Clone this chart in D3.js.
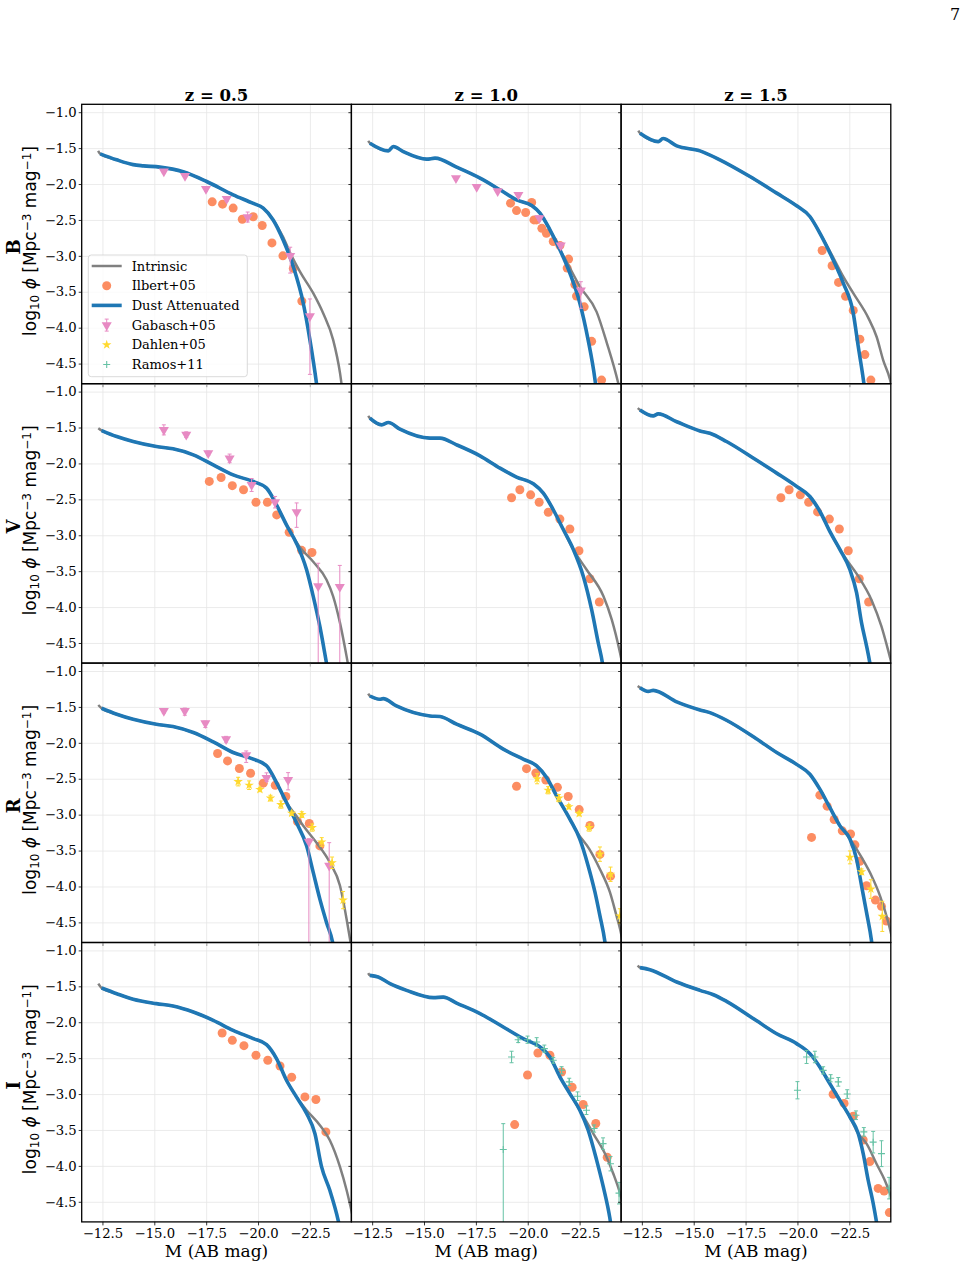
<!DOCTYPE html>
<html>
<head>
<meta charset="utf-8">
<script src="https://cdn.jsdelivr.net/npm/d3@7"></script>
<style>
  body { margin: 0; background: #fff; }
  text { font-family: "DejaVu Serif", serif; }
</style>
</head>
<body>
<div id="chart"></div>
<script>
// ---- categories / ticks ----
const bands = ["B", "V", "R", "I"];
const redshifts = ["0.5", "1.0", "1.5"];
const xTicks = [-12.5, -15, -17.5, -20, -22.5];
const yTicks = [-1, -1.5, -2, -2.5, -3, -3.5, -4, -4.5];

// ---- model curves: [M, log10 phi] ----
const dustB05 = [[-12.39,-1.58],[-13.18,-1.663],[-13.98,-1.73],[-14.47,-1.747],[-15.27,-1.765],[-16.39,-1.83],[-17.52,-1.965],[-18.8,-2.15],[-19.77,-2.27],[-20.25,-2.335],[-20.73,-2.50],[-21.21,-2.78],[-21.7,-3.15],[-22.18,-3.66],[-22.5,-4.17],[-22.82,-4.78],[-23.0,-5.2]];
const intrB05 = [[-12.29,-1.54],[-12.39,-1.58],[-13.18,-1.663],[-13.98,-1.73],[-14.47,-1.747],[-15.27,-1.765],[-16.39,-1.83],[-17.52,-1.965],[-18.8,-2.15],[-19.77,-2.27],[-20.25,-2.335],[-20.73,-2.50],[-21.21,-2.74],[-21.55,-2.96],[-22.02,-3.22],[-22.66,-3.52],[-23.14,-3.80],[-23.62,-4.17],[-23.95,-4.63],[-24.1,-4.95]];
const dustB10 = [[-12.39,-1.431],[-13.28,-1.538],[-13.52,-1.478],[-14.0,-1.548],[-15.13,-1.654],[-15.53,-1.64],[-16.57,-1.765],[-17.7,-1.918],[-18.66,-2.08],[-19.46,-2.22],[-20.19,-2.30],[-20.59,-2.405],[-21.07,-2.637],[-21.55,-2.915],[-22.03,-3.24],[-22.51,-3.656],[-22.91,-4.17],[-23.24,-4.72],[-23.4,-5.1]];
const intrB10 = [[-12.31,-1.40],[-12.39,-1.431],[-13.28,-1.538],[-13.52,-1.478],[-14.0,-1.548],[-15.13,-1.654],[-15.53,-1.64],[-16.57,-1.765],[-17.7,-1.918],[-18.66,-2.08],[-19.46,-2.22],[-20.19,-2.30],[-20.59,-2.405],[-21.07,-2.637],[-21.55,-2.915],[-21.85,-3.07],[-22.51,-3.424],[-23.32,-3.78],[-23.8,-4.2],[-24.36,-4.77],[-24.5,-4.95]];
const dustB15 = [[-12.41,-1.292],[-13.29,-1.409],[-13.52,-1.367],[-14.18,-1.469],[-15.3,-1.538],[-16.26,-1.663],[-17.71,-1.896],[-19.0,-2.127],[-19.96,-2.303],[-20.6,-2.452],[-21.08,-2.683],[-21.72,-3.055],[-22.21,-3.38],[-22.69,-3.797],[-22.93,-4.26],[-23.2,-4.77],[-23.3,-5.0]];
const intrB15 = [[-12.33,-1.256],[-12.41,-1.292],[-13.29,-1.409],[-13.52,-1.367],[-14.18,-1.469],[-15.3,-1.538],[-16.26,-1.663],[-17.71,-1.896],[-19.0,-2.127],[-19.96,-2.303],[-20.6,-2.452],[-21.08,-2.683],[-21.72,-3.02],[-22.21,-3.29],[-22.69,-3.52],[-23.41,-3.86],[-23.82,-4.13],[-24.14,-4.46],[-24.46,-4.72],[-24.6,-4.9]];

const dustV05 = [[-12.46,-1.542],[-13.19,-1.626],[-13.98,-1.695],[-15.1,-1.765],[-15.9,-1.797],[-16.88,-1.88],[-17.84,-2.02],[-18.8,-2.16],[-19.77,-2.252],[-20.41,-2.344],[-20.89,-2.577],[-21.37,-2.855],[-21.85,-3.11],[-22.34,-3.48],[-22.66,-3.85],[-22.98,-4.27],[-23.3,-4.78],[-23.5,-5.1]];
const intrV05 = [[-12.3,-1.51],[-12.46,-1.542],[-13.19,-1.626],[-13.98,-1.695],[-15.1,-1.765],[-15.9,-1.797],[-16.88,-1.88],[-17.84,-2.02],[-18.8,-2.16],[-19.77,-2.252],[-20.41,-2.344],[-20.89,-2.577],[-21.37,-2.855],[-22.0,-3.16],[-22.66,-3.37],[-23.3,-3.62],[-23.62,-3.85],[-23.95,-4.22],[-24.27,-4.69],[-24.4,-4.9]];
const dustV10 = [[-12.39,-1.37],[-12.96,-1.463],[-13.28,-1.431],[-13.84,-1.523],[-15.29,-1.648],[-15.77,-1.648],[-16.57,-1.741],[-17.7,-1.894],[-18.66,-2.065],[-19.46,-2.19],[-20.27,-2.284],[-20.75,-2.413],[-21.23,-2.645],[-21.72,-2.924],[-22.2,-3.20],[-22.68,-3.573],[-23.08,-4.036],[-23.4,-4.50],[-23.6,-4.78],[-23.7,-5.0]];
const intrV10 = [[-12.31,-1.338],[-12.39,-1.37],[-12.96,-1.463],[-13.28,-1.431],[-13.84,-1.523],[-15.29,-1.648],[-15.77,-1.648],[-16.57,-1.741],[-17.7,-1.894],[-18.66,-2.065],[-19.46,-2.19],[-20.27,-2.284],[-20.75,-2.413],[-21.23,-2.645],[-21.72,-2.924],[-22.2,-3.20],[-22.84,-3.48],[-23.65,-3.85],[-24.05,-4.175],[-24.45,-4.64],[-24.6,-4.85]];
const dustV15 = [[-12.41,-1.255],[-13.05,-1.338],[-13.29,-1.31],[-14.18,-1.42],[-15.3,-1.548],[-15.78,-1.58],[-16.58,-1.695],[-18.0,-1.95],[-19.0,-2.135],[-19.96,-2.32],[-20.6,-2.46],[-21.08,-2.666],[-21.56,-2.947],[-22.05,-3.20],[-22.53,-3.48],[-22.85,-3.80],[-23.09,-4.22],[-23.33,-4.54],[-23.49,-4.78],[-23.6,-5.0]];
const intrV15 = [[-12.3,-1.23],[-12.41,-1.255],[-13.05,-1.338],[-13.29,-1.31],[-14.18,-1.42],[-15.3,-1.548],[-15.78,-1.58],[-16.58,-1.695],[-18.0,-1.95],[-19.0,-2.135],[-19.96,-2.32],[-20.6,-2.46],[-21.08,-2.666],[-21.56,-2.947],[-22.05,-3.20],[-22.37,-3.34],[-22.93,-3.57],[-23.57,-3.90],[-24.05,-4.27],[-24.37,-4.60],[-24.55,-4.8]];

const dustR05 = [[-12.46,-1.519],[-13.19,-1.602],[-13.98,-1.672],[-15.1,-1.741],[-15.9,-1.773],[-16.88,-1.857],[-17.84,-1.987],[-18.8,-2.135],[-19.77,-2.228],[-20.41,-2.32],[-20.89,-2.553],[-21.37,-2.83],[-21.85,-3.11],[-22.34,-3.434],[-22.66,-3.804],[-22.98,-4.176],[-23.3,-4.50],[-23.59,-4.77],[-23.7,-4.95]];
const intrR05 = [[-12.3,-1.473],[-12.46,-1.519],[-13.19,-1.602],[-13.98,-1.672],[-15.1,-1.741],[-15.9,-1.773],[-16.88,-1.857],[-17.84,-1.987],[-18.8,-2.135],[-19.77,-2.228],[-20.41,-2.32],[-20.89,-2.553],[-21.37,-2.83],[-21.85,-3.02],[-22.18,-3.156],[-22.82,-3.39],[-23.46,-3.665],[-23.95,-3.99],[-24.27,-4.455],[-24.43,-4.73],[-24.5,-4.85]];
const dustR10 = [[-12.39,-1.348],[-12.87,-1.394],[-13.03,-1.385],[-13.67,-1.487],[-15.29,-1.626],[-15.77,-1.633],[-16.57,-1.741],[-17.7,-1.88],[-18.82,-2.088],[-19.78,-2.228],[-20.43,-2.32],[-20.91,-2.482],[-21.39,-2.738],[-22.03,-3.062],[-22.51,-3.34],[-22.91,-3.71],[-23.24,-4.08],[-23.48,-4.41],[-23.72,-4.77],[-23.8,-4.95]];
const intrR10 = [[-12.31,-1.315],[-12.39,-1.348],[-12.87,-1.394],[-13.03,-1.385],[-13.67,-1.487],[-15.29,-1.626],[-15.77,-1.633],[-16.57,-1.741],[-17.7,-1.88],[-18.82,-2.088],[-19.78,-2.228],[-20.43,-2.32],[-20.91,-2.482],[-21.39,-2.738],[-22.03,-3.062],[-22.39,-3.25],[-22.97,-3.48],[-23.48,-3.76],[-23.96,-4.08],[-24.28,-4.41],[-24.45,-4.59],[-24.6,-4.8]];
const dustR15 = [[-12.41,-1.232],[-12.81,-1.284],[-13.05,-1.27],[-14.18,-1.43],[-15.3,-1.542],[-15.78,-1.58],[-16.58,-1.686],[-18.0,-1.94],[-19.0,-2.135],[-19.96,-2.30],[-20.6,-2.437],[-21.08,-2.645],[-21.56,-2.90],[-22.05,-3.156],[-22.53,-3.34],[-22.85,-3.62],[-23.09,-3.99],[-23.33,-4.36],[-23.57,-4.757],[-23.65,-4.95]];
const intrR15 = [[-12.3,-1.209],[-12.41,-1.232],[-12.81,-1.284],[-13.05,-1.27],[-14.18,-1.43],[-15.3,-1.542],[-15.78,-1.58],[-16.58,-1.686],[-18.0,-1.94],[-19.0,-2.135],[-19.96,-2.30],[-20.6,-2.437],[-21.08,-2.645],[-21.56,-2.90],[-22.05,-3.156],[-22.53,-3.34],[-23.1,-3.60],[-23.57,-3.85],[-23.98,-4.13],[-24.38,-4.50],[-24.55,-4.7]];

const dustI05 = [[-12.46,-1.524],[-13.19,-1.603],[-13.98,-1.68],[-15.1,-1.741],[-15.9,-1.774],[-16.88,-1.858],[-17.84,-1.974],[-18.8,-2.113],[-19.77,-2.228],[-20.41,-2.312],[-20.89,-2.506],[-21.37,-2.808],[-21.85,-3.04],[-22.34,-3.27],[-22.74,-3.55],[-23.06,-4.01],[-23.46,-4.34],[-23.86,-4.755],[-24.0,-4.95]];
const intrI05 = [[-12.3,-1.463],[-12.46,-1.524],[-13.19,-1.603],[-13.98,-1.68],[-15.1,-1.741],[-15.9,-1.774],[-16.88,-1.858],[-17.84,-1.974],[-18.8,-2.113],[-19.77,-2.228],[-20.41,-2.312],[-20.89,-2.506],[-21.37,-2.808],[-21.85,-3.04],[-22.34,-3.225],[-22.98,-3.434],[-23.46,-3.643],[-23.95,-4.014],[-24.27,-4.34],[-24.46,-4.57],[-24.6,-4.75]];
const dustI10 = [[-12.39,-1.348],[-12.79,-1.371],[-13.36,-1.463],[-14.16,-1.556],[-15.45,-1.657],[-15.93,-1.65],[-16.57,-1.733],[-17.7,-1.88],[-18.82,-2.066],[-19.78,-2.228],[-20.59,-2.344],[-21.07,-2.483],[-21.55,-2.76],[-22.03,-2.993],[-22.51,-3.225],[-22.91,-3.50],[-23.32,-3.92],[-23.64,-4.29],[-23.96,-4.73],[-24.05,-4.9]];
const intrI10 = [[-12.31,-1.316],[-12.39,-1.348],[-12.79,-1.371],[-13.36,-1.463],[-14.16,-1.556],[-15.45,-1.657],[-15.93,-1.65],[-16.57,-1.733],[-17.7,-1.88],[-18.82,-2.066],[-19.78,-2.228],[-20.59,-2.344],[-21.07,-2.483],[-21.55,-2.76],[-22.03,-2.993],[-22.51,-3.225],[-23.16,-3.55],[-23.8,-3.875],[-24.12,-4.106],[-24.45,-4.385],[-24.6,-4.55]];
const dustI15 = [[-12.41,-1.24],[-12.89,-1.268],[-14.18,-1.44],[-15.3,-1.556],[-15.95,-1.617],[-16.58,-1.709],[-18.0,-1.974],[-19.0,-2.16],[-19.96,-2.298],[-20.6,-2.437],[-21.08,-2.623],[-21.56,-2.855],[-22.05,-3.09],[-22.53,-3.32],[-22.93,-3.55],[-23.17,-3.83],[-23.41,-4.2],[-23.65,-4.52],[-23.81,-4.78],[-23.9,-4.95]];
const intrI15 = [[-12.3,-1.209],[-12.41,-1.24],[-12.89,-1.268],[-14.18,-1.44],[-15.3,-1.556],[-15.95,-1.617],[-16.58,-1.709],[-18.0,-1.974],[-19.0,-2.16],[-19.96,-2.298],[-20.6,-2.437],[-21.08,-2.623],[-21.56,-2.855],[-22.05,-3.09],[-22.53,-3.32],[-22.93,-3.55],[-23.33,-3.69],[-23.81,-3.97],[-24.21,-4.2],[-24.46,-4.385],[-24.6,-4.5]];

// ---- observations: Ilbert+05 [M, phi] ----
const ilbertB05 = [[-17.79,-2.248],[-18.29,-2.28],[-18.8,-2.335],[-19.24,-2.49],[-19.77,-2.456],[-20.2,-2.577],[-20.67,-2.82],[-21.2,-3.0],[-21.7,-3.175],[-22.11,-3.63]];
const ilbertB10 = [[-19.17,-2.266],[-20.19,-2.257],[-19.46,-2.37],[-19.9,-2.396],[-20.3,-2.50],[-20.42,-2.50],[-20.68,-2.617],[-20.9,-2.687],[-21.23,-2.80],[-21.55,-2.856],[-21.97,-3.045],[-21.9,-3.17],[-22.27,-3.40],[-22.35,-3.56],[-22.72,-3.71],[-23.08,-4.19],[-23.56,-4.73]];
const ilbertB15 = [[-21.19,-2.925],[-21.67,-3.138],[-21.98,-3.37],[-22.32,-3.564],[-22.69,-3.76],[-23.01,-4.16],[-23.25,-4.375],[-23.54,-4.73]];
const ilbertV05 = [[-17.65,-2.25],[-18.22,-2.196],[-18.76,-2.31],[-19.3,-2.367],[-19.9,-2.54],[-20.45,-2.54],[-20.9,-2.717],[-21.5,-2.958],[-22.1,-3.21],[-22.6,-3.24]];
const ilbertV10 = [[-19.22,-2.478],[-19.62,-2.367],[-20.14,-2.437],[-20.55,-2.54],[-20.99,-2.68],[-21.55,-2.775],[-22.03,-2.913],[-22.47,-3.215],[-23.0,-3.605],[-23.45,-3.93]];
const ilbertV15 = [[-19.2,-2.478],[-19.6,-2.367],[-20.14,-2.437],[-20.54,-2.54],[-20.97,-2.675],[-21.54,-2.775],[-22.02,-2.913],[-22.45,-3.215],[-22.98,-3.605],[-23.43,-3.93]];
const ilbertR05 = [[-18.05,-2.149],[-18.53,-2.252],[-19.1,-2.358],[-19.64,-2.423],[-20.25,-2.562],[-20.83,-2.59],[-21.34,-2.747],[-21.9,-3.095],[-22.47,-3.123],[-22.98,-3.435]];
const ilbertR10 = [[-19.46,-2.605],[-19.94,-2.36],[-20.39,-2.42],[-20.87,-2.517],[-21.43,-2.62],[-21.95,-2.747],[-22.48,-2.93],[-23.0,-3.15],[-23.48,-3.554],[-23.99,-3.856]];
const ilbertR15 = [[-20.68,-3.317],[-21.08,-2.729],[-21.43,-2.882],[-21.77,-3.067],[-22.16,-3.225],[-22.56,-3.27],[-22.77,-3.42],[-23.01,-3.65],[-23.33,-3.99],[-23.76,-4.19],[-24.05,-4.277],[-24.29,-4.48]];
const ilbertI05 = [[-18.27,-2.15],[-18.76,-2.252],[-19.32,-2.326],[-19.9,-2.46],[-20.47,-2.53],[-21.06,-2.61],[-21.62,-2.766],[-22.26,-3.04],[-22.79,-3.076],[-23.27,-3.527]];
const ilbertI10 = [[-19.37,-3.425],[-19.99,-2.734],[-20.49,-2.428],[-21.07,-2.46],[-21.63,-2.693],[-22.14,-2.905],[-22.67,-3.146],[-23.28,-3.41],[-23.83,-3.88]];
const ilbertI15 = [[-21.72,-3.003],[-22.25,-3.13],[-22.69,-3.308],[-23.17,-3.64],[-23.49,-3.94],[-23.89,-4.314],[-24.18,-4.35],[-24.43,-4.65]];

// ---- observations with errors: [M, phi, errDown, errUp] ----
const gabaschB05 = [[-15.46,-1.826,0.02,0.02],[-16.48,-1.886,0.02,0.02],[-17.49,-2.067,0.03,0.03],[-18.49,-2.207,0.03,0.03],[-19.5,-2.46,0.07,0.07],[-21.55,-3.0,0.24,0.12],[-22.5,-3.84,0.81,0.24]];
const gabaschB10 = [[-16.54,-1.92,0.02,0.02],[-17.54,-2.04,0.02,0.02],[-18.55,-2.10,0.02,0.02],[-19.55,-2.15,0.03,0.03],[-20.56,-2.474,0.03,0.03],[-21.59,-2.856,0.04,0.04],[-22.56,-3.48,0.25,0.12]];
const gabaschV05 = [[-15.46,-1.533,0.07,0.07],[-16.54,-1.60,0.04,0.04],[-17.6,-1.857,0.03,0.03],[-18.63,-1.93,0.06,0.06],[-19.69,-2.30,0.09,0.09],[-20.82,-2.54,0.08,0.08],[-21.86,-2.68,0.21,0.13],[-22.9,-3.71,2.5,0.32],[-23.94,-3.72,2.5,0.30]];
const gabaschR05 = [[-15.46,-1.556,0.03,0.03],[-16.47,-1.556,0.06,0.04],[-17.46,-1.727,0.06,0.03],[-18.46,-1.95,0.04,0.04],[-19.43,-2.173,0.10,0.06],[-20.41,-2.488,0.05,0.07],[-21.45,-2.515,0.14,0.10],[-22.45,-3.375,2.5,0.04],[-23.43,-3.71,2.5,0.32]];
const dahlenR05 = [[-19.04,-2.54,0.06,0.06],[-19.57,-2.59,0.06,0.06],[-20.09,-2.65,0.03,0.03],[-20.6,-2.77,0.04,0.04],[-21.1,-2.86,0.05,0.05],[-21.62,-2.98,0.03,0.03],[-22.11,-3.0,0.04,0.04],[-22.61,-3.18,0.05,0.05],[-23.07,-3.38,0.06,0.06],[-23.57,-3.67,0.08,0.08],[-24.1,-4.19,0.12,0.12]];
const dahlenR10 = [[-20.45,-2.50,0.07,0.07],[-20.98,-2.66,0.05,0.05],[-21.5,-2.77,0.05,0.05],[-21.98,-2.89,0.03,0.03],[-22.48,-2.985,0.03,0.03],[-22.96,-3.18,0.05,0.05],[-23.48,-3.55,0.10,0.10],[-23.99,-3.83,0.10,0.10],[-24.44,-4.41,0.10,0.10]];
const dahlenR15 = [[-22.53,-3.595,0.09,0.09],[-23.09,-3.795,0.04,0.04],[-23.54,-4.036,0.13,0.13],[-24.09,-4.416,0.21,0.21]];
const ramosI10 = [[-18.82,-3.772,2.5,0.36],[-19.22,-2.484,0.08,0.08],[-19.54,-2.243,0.04,0.04],[-19.99,-2.243,0.05,0.05],[-20.43,-2.275,0.06,0.06],[-20.8,-2.368,0.05,0.05],[-21.23,-2.53,0.04,0.04],[-21.63,-2.669,0.05,0.05],[-22.0,-2.83,0.05,0.05],[-22.4,-3.03,0.06,0.06],[-22.83,-3.225,0.06,0.06],[-23.2,-3.48,0.05,0.05],[-23.63,-3.69,0.08,0.08],[-23.99,-3.97,0.10,0.10],[-24.4,-4.38,0.15,0.15]];
const ramosI15 = [[-20.0,-2.947,0.12,0.12],[-20.44,-2.484,0.09,0.09],[-20.84,-2.484,0.08,0.08],[-21.24,-2.67,0.05,0.05],[-21.6,-2.78,0.05,0.05],[-21.97,-2.83,0.06,0.06],[-22.4,-3.0,0.06,0.06],[-22.82,-3.295,0.06,0.06],[-23.2,-3.527,0.06,0.06],[-23.65,-3.67,0.15,0.15],[-24.05,-3.83,0.18,0.18],[-24.42,-4.31,0.15,0.15]];

// panel table built from the arrays above (row = band, col = redshift)
const panels = [
  {row: 0, col: 0, intr: intrB05, dust: dustB05, ilbert: ilbertB05, gabasch: gabaschB05},
  {row: 0, col: 1, intr: intrB10, dust: dustB10, ilbert: ilbertB10, gabasch: gabaschB10},
  {row: 0, col: 2, intr: intrB15, dust: dustB15, ilbert: ilbertB15},
  {row: 1, col: 0, intr: intrV05, dust: dustV05, ilbert: ilbertV05, gabasch: gabaschV05},
  {row: 1, col: 1, intr: intrV10, dust: dustV10, ilbert: ilbertV10},
  {row: 1, col: 2, intr: intrV15, dust: dustV15, ilbert: ilbertV15},
  {row: 2, col: 0, intr: intrR05, dust: dustR05, ilbert: ilbertR05, gabasch: gabaschR05, dahlen: dahlenR05},
  {row: 2, col: 1, intr: intrR10, dust: dustR10, ilbert: ilbertR10, dahlen: dahlenR10},
  {row: 2, col: 2, intr: intrR15, dust: dustR15, ilbert: ilbertR15, dahlen: dahlenR15},
  {row: 3, col: 0, intr: intrI05, dust: dustI05, ilbert: ilbertI05},
  {row: 3, col: 1, intr: intrI10, dust: dustI10, ilbert: ilbertI10, ramos: ramosI10},
  {row: 3, col: 2, intr: intrI15, dust: dustI15, ilbert: ilbertI15, ramos: ramosI15}
];

const colors = {
  intr: "#808080", dust: "#1f77b4", ilbert: "#fc8d62",
  gabasch: "#e78ac3", dahlen: "#ffd92f", ramos: "#66c2a5"
};

// ---- layout ----
const W = 967, H = 1267;
const colX = [81.7, 351.4, 621.1];
const rowY = [104.3, 383.7, 663.1, 942.5];
const pw = 269.7, ph = 279.4;

const x = d3.scaleLinear().domain([-11.5, -24.5]).range([0, pw]);
const y = d3.scaleLinear().domain([-0.89, -4.78]).range([0, ph]);

const svg = d3.select("#chart").append("svg")
  .attr("width", W).attr("height", H);

svg.append("defs").append("clipPath").attr("id", "panelClip")
  .append("rect").attr("width", pw).attr("height", ph);

const line = d3.line()
  .x(d => x(d[0]))
  .y(d => y(d[1]))
  .curve(d3.curveMonotoneX);

const triDown = d3.symbol().type(d3.symbolTriangle).size(44);
const star = d3.symbol().type(d3.symbolStar).size(28);

function drawErrorBars(g, data, color) {
  const eb = g.append("g").attr("stroke", color).attr("stroke-width", 1);
  eb.selectAll("line.bar").data(data).join("line").attr("class", "bar")
    .attr("x1", d => x(d[0])).attr("x2", d => x(d[0]))
    .attr("y1", d => y(d[1] - d[2])).attr("y2", d => y(d[1] + d[3]));
  eb.selectAll("line.capLo").data(data).join("line").attr("class", "capLo")
    .attr("x1", d => x(d[0]) - 2).attr("x2", d => x(d[0]) + 2)
    .attr("y1", d => y(d[1] - d[2])).attr("y2", d => y(d[1] - d[2]));
  eb.selectAll("line.capHi").data(data).join("line").attr("class", "capHi")
    .attr("x1", d => x(d[0]) - 2).attr("x2", d => x(d[0]) + 2)
    .attr("y1", d => y(d[1] + d[3])).attr("y2", d => y(d[1] + d[3]));
}

panels.forEach(p => {
  const g = svg.append("g")
    .attr("transform", `translate(${colX[p.col]},${rowY[p.row]})`);

  // grid
  g.append("g")
    .attr("transform", `translate(0,${ph})`)
    .call(d3.axisBottom(x).tickValues(xTicks).tickSize(-ph).tickFormat(""))
    .call(a => a.select(".domain").remove())
    .call(a => a.selectAll("line").attr("stroke", "#e6e6e6").attr("stroke-width", 0.8));
  g.append("g")
    .call(d3.axisLeft(y).tickValues(yTicks).tickSize(-pw).tickFormat(""))
    .call(a => a.select(".domain").remove())
    .call(a => a.selectAll("line").attr("stroke", "#e6e6e6").attr("stroke-width", 0.8));

  const plot = g.append("g").attr("clip-path", "url(#panelClip)");

  // Ilbert+05 scatter (below lines)
  plot.append("g").selectAll("circle").data(p.ilbert).join("circle")
    .attr("cx", d => x(d[0])).attr("cy", d => y(d[1]))
    .attr("r", 4.5).attr("fill", colors.ilbert);

  plot.append("path").datum(p.intr)
    .attr("d", line).attr("fill", "none")
    .attr("stroke", colors.intr).attr("stroke-width", 2.5);
  plot.append("path").datum(p.dust)
    .attr("d", line).attr("fill", "none")
    .attr("stroke", colors.dust).attr("stroke-width", 3.6);

  if (p.gabasch) {
    drawErrorBars(plot, p.gabasch, colors.gabasch);
    plot.append("g").selectAll("path").data(p.gabasch).join("path")
      .attr("d", triDown)
      .attr("transform", d => `translate(${x(d[0])},${y(d[1])}) rotate(180)`)
      .attr("fill", colors.gabasch);
  }
  if (p.dahlen) {
    drawErrorBars(plot, p.dahlen, colors.dahlen);
    plot.append("g").selectAll("path").data(p.dahlen).join("path")
      .attr("d", star)
      .attr("transform", d => `translate(${x(d[0])},${y(d[1])})`)
      .attr("fill", colors.dahlen);
  }
  if (p.ramos) {
    drawErrorBars(plot, p.ramos, colors.ramos);
    plot.append("g").selectAll("path").data(p.ramos).join("path")
      .attr("d", "M-3.5,0H3.5M0,-3.5V3.5")
      .attr("transform", d => `translate(${x(d[0])},${y(d[1])})`)
      .attr("stroke", colors.ramos).attr("stroke-width", 1.1);
  }

  // axes ticks
  const xAxis = g.append("g")
    .attr("transform", `translate(0,${ph})`)
    .call(d3.axisBottom(x).tickValues(xTicks).tickSize(3.5).tickPadding(3.5)
      .tickFormat(p.row === 3 ? d3.format(".1f") : ""));
  const yAxis = g.append("g")
    .call(d3.axisLeft(y).tickValues(yTicks).tickSize(3).tickPadding(2)
      .tickFormat(p.col === 0 ? d3.format(".1f") : ""));
  [xAxis, yAxis].forEach(a => {
    a.select(".domain").remove();
    a.selectAll("line").attr("stroke", "#000").attr("stroke-width", 0.8);
    a.selectAll("text").attr("fill", "#000")
      .style("font-family", "DejaVu Serif").style("font-size", "13.2px");
  });

  // frame
  g.append("rect").attr("width", pw).attr("height", ph)
    .attr("fill", "none").attr("stroke", "#000").attr("stroke-width", 1.3);
});

// ---- legend in the first panel ----
const legendItems = [
  {label: "Intrinsic", kind: "line", color: colors.intr, w: 2.5},
  {label: "Ilbert+05", kind: "circle", color: colors.ilbert},
  {label: "Dust Attenuated", kind: "line", color: colors.dust, w: 3.6},
  {label: "Gabasch+05", kind: "tri", color: colors.gabasch},
  {label: "Dahlen+05", kind: "star", color: colors.dahlen},
  {label: "Ramos+11", kind: "plus", color: colors.ramos}
];
const lg = svg.append("g").attr("transform", `translate(${88.3},${255})`);
lg.append("rect").attr("width", 159).attr("height", 121.7).attr("rx", 3)
  .attr("fill", "#fff").attr("fill-opacity", 0.8)
  .attr("stroke", "#d0d0d0").attr("stroke-width", 0.8);
legendItems.forEach((it, i) => {
  const cy = 11 + i * 19.7;
  const hg = lg.append("g").attr("transform", `translate(18.4,${cy})`);
  if (it.kind === "line") {
    hg.append("line").attr("x1", -15).attr("x2", 15)
      .attr("stroke", it.color).attr("stroke-width", it.w);
  } else if (it.kind === "circle") {
    hg.append("circle").attr("r", 4.5).attr("fill", it.color);
  } else if (it.kind === "tri") {
    hg.append("line").attr("y1", -6).attr("y2", 6).attr("stroke", it.color);
    hg.append("line").attr("x1", -2).attr("x2", 2).attr("y1", -6).attr("y2", -6).attr("stroke", it.color);
    hg.append("line").attr("x1", -2).attr("x2", 2).attr("y1", 6).attr("y2", 6).attr("stroke", it.color);
    hg.append("path").attr("d", triDown).attr("transform", "rotate(180)").attr("fill", it.color);
  } else if (it.kind === "star") {
    hg.append("path").attr("d", star).attr("fill", it.color);
  } else {
    hg.append("path").attr("d", "M-3.5,0H3.5M0,-3.5V3.5")
      .attr("stroke", it.color).attr("stroke-width", 1.1);
  }
  lg.append("text").attr("x", 43.4).attr("y", cy).attr("dy", "0.35em")
    .style("font-size", "13px").text(it.label);
});

// ---- titles and labels ----
redshifts.forEach((z, c) => {
  svg.append("text")
    .attr("x", colX[c] + pw / 2).attr("y", 95.5).attr("dy", "0.35em")
    .attr("text-anchor", "middle")
    .style("font-size", "16.5px").style("font-weight", "bold")
    .text(`z = ${z}`);
  svg.append("text")
    .attr("x", colX[c] + pw / 2).attr("y", 1251.5).attr("dy", "0.35em")
    .attr("text-anchor", "middle")
    .style("font-size", "17px")
    .text("M (AB mag)");
});

bands.forEach((b, r) => {
  const cy = rowY[r] + ph / 2;
  svg.append("text")
    .attr("transform", `translate(20,${cy + 3}) rotate(-90)`)
    .attr("text-anchor", "middle")
    .style("font-size", "18px").style("font-weight", "bold")
    .text(b);
  const t = svg.append("text")
    .attr("transform", `translate(36,${cy - 3}) rotate(-90)`)
    .attr("text-anchor", "middle")
    .style("font-family", "DejaVu Sans").style("font-size", "17px");
  t.append("tspan").text("log");
  t.append("tspan").attr("baseline-shift", "-25%").style("font-size", "12px").text("10");
  t.append("tspan").text(" ");
  t.append("tspan").style("font-style", "italic").text("ϕ");
  t.append("tspan").text(" [Mpc");
  t.append("tspan").attr("baseline-shift", "40%").style("font-size", "12px").text("−3");
  t.append("tspan").text(" mag");
  t.append("tspan").attr("baseline-shift", "40%").style("font-size", "12px").text("−1");
  t.append("tspan").text("]");
});

// page number
svg.append("text").attr("x", 955).attr("y", 14).attr("dy", "0.35em")
  .attr("text-anchor", "middle").style("font-size", "16px").text("7");
</script>
</body>
</html>
